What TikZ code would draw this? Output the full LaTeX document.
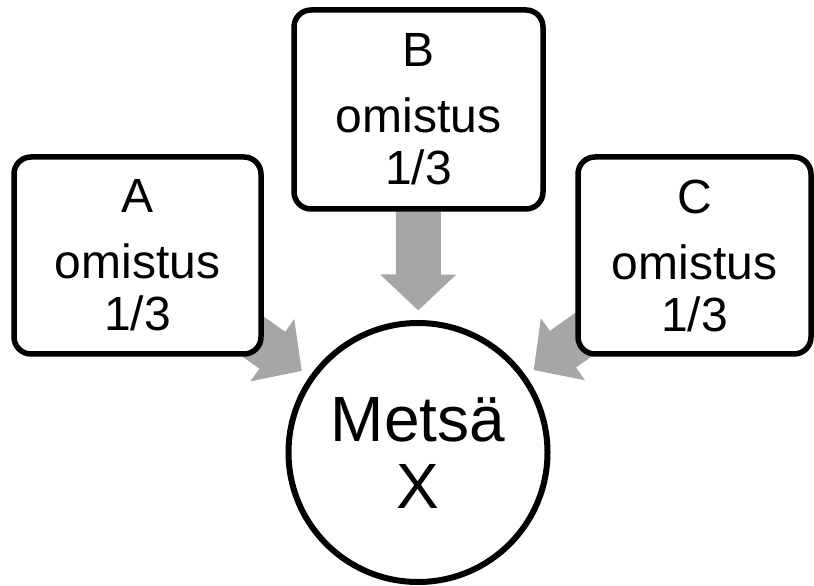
\documentclass[tikz,border=0pt]{standalone}
\usepackage{fontspec}
\setmainfont{Liberation Sans}
\usetikzlibrary{arrows.meta,calc,backgrounds}
\definecolor{arrowgray}{RGB}{166,166,166}
\begin{document}
\begin{tikzpicture}[x=1pt,y=1pt,
  owner/.style={draw, line width=5.5pt, fill=white, rounded corners=17pt,
    minimum height=197pt, align=center, inner sep=0pt,
    font=\fontsize{48}{52}\selectfont},
  forest/.style={draw, circle, line width=6pt, fill=white, minimum size=259pt,
    inner sep=0pt, align=center, font=\fontsize{64}{67}\selectfont},
  share/.style={arrowgray, line width=45pt,
    -{Triangle[width=74pt,length=36pt]}}]
\useasboundingbox (0,0) rectangle (814,586);
% owners
\node[owner, minimum width=247pt] (A) at (137.5,330.5) {A\\[14pt]omistus\\1/3};
\node[owner, minimum width=249pt, minimum height=199pt] (B) at (418.5,476.5) {B\\[14pt]omistus\\1/3};
\node[owner, minimum width=233pt] (C) at (694.5,330.5) {C\\[14pt]omistus\\1/3};
% the forest
\node[forest] (X) at (418,133.5) {Metsä\\X};
% ownership arrows, tucked behind the boxes
\begin{scope}[on background layer]
  \foreach \o in {A,B,C}
    \draw[share] (\o.center) -- ($(X.center)!142pt!(\o.center)$);
\end{scope}
\end{tikzpicture}
\end{document}
